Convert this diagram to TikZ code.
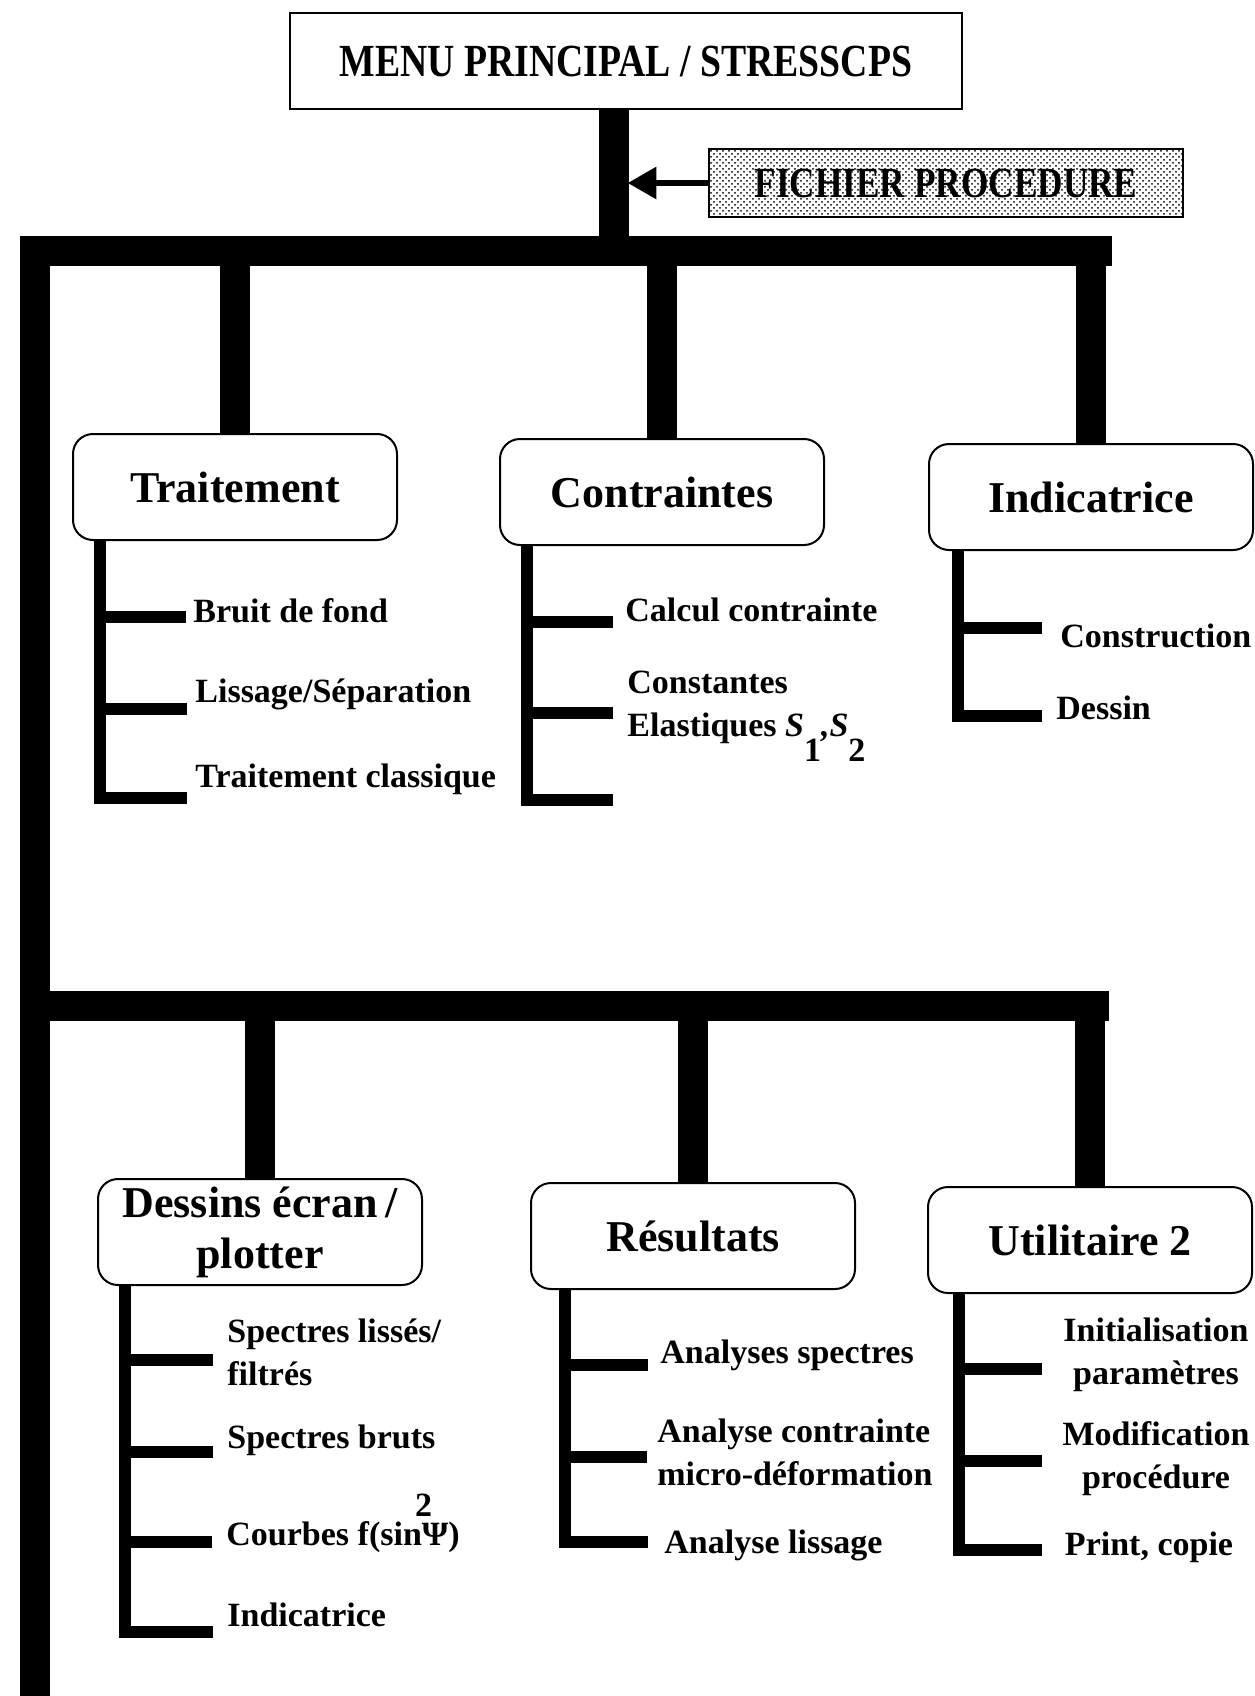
\documentclass[tikz,border=0pt]{standalone}
\usepackage{fontspec}
\setmainfont{Liberation Serif}
\newfontfamily\narrowfont[FakeStretch=0.82]{Liberation Serif}
\usetikzlibrary{positioning}
\usetikzlibrary{arrows}
\usetikzlibrary{patterns}

\begin{document}
\begin{tikzpicture}[x=0.5pt,y=-0.5pt]

\tikzstyle{menubox} = [draw, line width=1.2pt, minimum width=336pt, minimum height=48pt, font=\narrowfont\bfseries\fontsize{23}{27}\selectfont]
\tikzstyle{filebox} = [draw, line width=1.2pt, pattern=crosshatch dots, minimum width=237pt, minimum height=34pt, font=\narrowfont\bfseries\fontsize{21.5}{25}\selectfont]
\tikzstyle{menunode} = [draw, rounded corners=10pt, line width=1pt, minimum width=162pt, minimum height=53pt, align=center, font=\bfseries\fontsize{22}{25.5}\selectfont]
\tikzstyle{leafnode} = [anchor=west, inner sep=0pt, align=left, font=\bfseries\fontsize{17}{21.5}\selectfont]
\tikzstyle{utilnode} = [inner sep=0pt, align=center, font=\bfseries\fontsize{17}{21.5}\selectfont]
\tikzstyle{thickline} = [line width=15pt]
\tikzstyle{branchline} = [line width=15pt]
\tikzstyle{subline} = [line width=6pt]
\tikzstyle{myarrow} = [line width=3pt, -triangle 60]

\useasboundingbox (0,0) rectangle (1254,1696);

% main menu and procedure file
\node [menubox] (menu) at (626,61) {MENU PRINCIPAL / STRESSCPS};
\node [filebox] (file) at (946,183) {FICHIER PROCEDURE};

\coordinate (j0) at (614,251);
\coordinate (j1) at (22,251);
\coordinate (j2) at (1112,251);
\coordinate (j3) at (35,236);
\coordinate (j4) at (35,1696);
\coordinate (j5) at (35,1006);
\coordinate (j6) at (1109,1006);
\coordinate (a0) at (628,183);

\draw [thickline] (menu.south -| j0) -- (j0);
\draw [myarrow] (file.west) -- (a0);
\draw [thickline] (j1) -- (j2);
\draw [thickline] (j3) -- (j4);
\draw [thickline] (j5) -- (j6);

% first level
\node [menunode] (trait) at (235,487) {Traitement};
\node [menunode] (contr) at (662,492) {Contraintes};
\node [menunode] (indic) at (1091,497) {Indicatrice};
\draw [branchline] (trait.north) -- (trait.north |- j0);
\draw [branchline] (contr.north) -- (contr.north |- j0);
\draw [branchline] (indic.north) -- (indic.north |- j0);

% second level
\node [menunode] (dess) at (260,1232) {Dessins \'ecran\,/\\plotter};
\node [menunode] (resu) at (693,1236) {R\'esultats};
\node [menunode] (util) at (1090,1240) {Utilitaire 2};
\draw [branchline] (dess.north) -- (dess.north |- j5);
\draw [branchline] (resu.north) -- (resu.north |- j5);
\draw [branchline] (util.north) -- (util.north |- j5);

% Traitement
\node [leafnode] (bf) at (193,611) {Bruit de fond};
\node [leafnode] (ls) at (195,694) {Lissage/S\'eparation};
\node [leafnode] (tc) at (195,779) {Traitement classique};
\coordinate (tr1) at (100,617);
\coordinate (tr2) at (100,709);
\coordinate (tr3) at (100,798);
\draw [subline] (trait.south -| tr1) -- (tr3) -- ([xshift=-4pt]tr3 -| tc.west);
\draw [subline] (tr1) -- ([xshift=-3.5pt]tr1 -| bf.west);
\draw [subline] (tr2) -- ([xshift=-4pt]tr2 -| ls.west);

% Contraintes
\node [leafnode] (cc) at (625,610) {Calcul contrainte};
\node [leafnode] (ce) at (627,707) {Constantes\\Elastiques \textit{S}\smash{\raisebox{-0.75em}{1}}\textit{,S}\smash{\raisebox{-0.75em}{2}}};
\coordinate (ct1) at (527,622);
\coordinate (ct2) at (527,713);
\coordinate (ct3) at (527,800);
\coordinate (ct3e) at (613,800);
\draw [subline] (contr.south -| ct1) -- (ct3) -- (ct3e);
\draw [subline] (ct1) -- ([xshift=-6pt]ct1 -| cc.west);
\draw [subline] (ct2) -- ([xshift=-7pt]ct2 -| ce.west);

% Indicatrice
\node [leafnode] (co) at (1060,636) {Construction};
\node [leafnode] (de) at (1056,708) {Dessin};
\coordinate (in1) at (958,628);
\coordinate (in2) at (958,716);
\draw [subline] (indic.south -| in1) -- (in2) -- ([xshift=-7pt]in2 -| de.west);
\draw [subline] (in1) -- ([xshift=-9pt]in1 -| co.west);

% Dessins ecran / plotter
\node [leafnode] (sl) at (227,1352) {Spectres liss\'es/\\filtr\'es};
\node [leafnode] (sb) at (227,1440) {Spectres bruts};
\node [leafnode] (cb) at (226,1537) {Courbes f(sin\llap{\smash{\raisebox{0.85em}{2}}\kern-0.3em}Ψ)};
\node [leafnode] (id) at (227,1615) {Indicatrice};
\coordinate (ds1) at (125,1360);
\coordinate (ds2) at (125,1452);
\coordinate (ds3) at (125,1542);
\coordinate (ds4) at (125,1632);
\draw [subline] (dess.south -| ds1) -- (ds4) -- ([xshift=-7pt]ds4 -| id.west);
\draw [subline] (ds1) -- ([xshift=-7pt]ds1 -| sl.west);
\draw [subline] (ds2) -- ([xshift=-7pt]ds2 -| sb.west);
\draw [subline] (ds3) -- ([xshift=-7pt]ds3 -| cb.west);

% Resultats
\node [leafnode] (as) at (660,1355) {Analyses spectres};
\node [leafnode] (ac) at (657,1452) {Analyse contrainte\\micro-d\'eformation};
\node [leafnode] (al) at (664,1545) {Analyse lissage};
\coordinate (rs1) at (565,1365);
\coordinate (rs2) at (565,1457);
\coordinate (rs3) at (565,1542);
\draw [subline] (resu.south -| rs1) -- (rs3) -- ([xshift=-8pt]rs3 -| al.west);
\draw [subline] (rs1) -- ([xshift=-6pt]rs1 -| as.west);
\draw [subline] (rs2) -- ([xshift=-5pt]rs2 -| ac.west);

% Utilitaire 2
\node [utilnode] (ip) at (1156,1355) {Initialisation\\param\`etres};
\node [utilnode] (mp) at (1156,1459) {Modification\\proc\'edure};
\node [utilnode] (pc) at (1149,1547) {Print, copie};
\coordinate (ut1) at (959,1369);
\coordinate (ut2) at (959,1461);
\coordinate (ut3) at (959,1550);
\coordinate (ut1e) at (1042,1369);
\coordinate (ut2e) at (1042,1461);
\coordinate (ut3e) at (1042,1550);
\draw [subline] (util.south -| ut1) -- (ut3) -- (ut3e);
\draw [subline] (ut1) -- (ut1e);
\draw [subline] (ut2) -- (ut2e);

\end{tikzpicture}
\end{document}
